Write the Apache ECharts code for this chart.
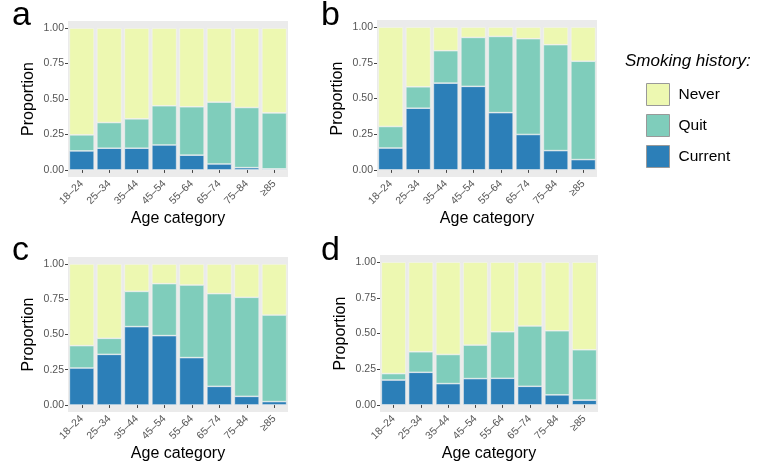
<!DOCTYPE html>
<html><head><meta charset="utf-8">
<script src="https://cdn.jsdelivr.net/npm/echarts@6/dist/echarts.min.js"></script>
<style>html,body{margin:0;padding:0;background:#fff}#c{width:758px;height:465px}</style>
</head><body><div id="c"></div>
<script>
const categories = ['18–24','25–34','35–44','45–54','55–64','65–74','75–84','≥85'];
const yTicks = [0, 0.25, 0.5, 0.75, 1];
const panelLabels = ['a','b','c','d'];
const seriesNames = ['Current','Quit','Never'];

const aCurrent = [0.134,0.153,0.153,0.176,0.104,0.042,0.016,0.007];
const aQuit    = [0.113,0.181,0.207,0.276,0.341,0.436,0.424,0.395];
const aNever   = [0.753,0.666,0.640,0.548,0.555,0.522,0.560,0.598];

const bCurrent = [0.153,0.432,0.608,0.585,0.401,0.248,0.135,0.072];
const bQuit    = [0.151,0.150,0.227,0.343,0.534,0.671,0.742,0.689];
const bNever   = [0.696,0.418,0.165,0.072,0.065,0.081,0.123,0.239];

const cCurrent = [0.262,0.359,0.556,0.492,0.336,0.132,0.061,0.024];
const cQuit    = [0.159,0.114,0.250,0.369,0.515,0.658,0.703,0.614];
const cNever   = [0.579,0.527,0.194,0.139,0.149,0.210,0.236,0.362];

const dCurrent = [0.174,0.228,0.149,0.184,0.186,0.130,0.070,0.033];
const dQuit    = [0.045,0.144,0.204,0.235,0.326,0.423,0.449,0.353];
const dNever   = [0.781,0.628,0.647,0.581,0.488,0.447,0.481,0.614];

const panels = [[aCurrent,aQuit,aNever],[bCurrent,bQuit,bNever],[cCurrent,cQuit,cNever],[dCurrent,dQuit,dNever]];
const colors = {Current:'#2c7fb8', Quit:'#7fcdbb', Never:'#edf8b1'};
const FONT = '"Liberation Sans", Arial, Helvetica, sans-serif';

const grids = [
  {left:68, top:21, width:220, height:156},
  {left:377, top:20, width:220, height:157},
  {left:68, top:257, width:220, height:155},
  {left:380, top:255, width:218, height:157}
];
const letterPos = [[12,16],[321,16],[12,251],[321,251]];

const option = {
  animation:false,
  backgroundColor:'#fff',
  grid: grids.map(g => Object.assign({show:true, backgroundColor:'#ebebeb', borderWidth:0}, g)),
  xAxis: grids.map((g,i) => ({
    type:'category', gridIndex:i, data:categories,
    name:'Age category', nameLocation:'middle', nameGap:34,
    nameTextStyle:{fontSize:16, color:'#000', fontFamily:FONT},
    axisLine:{show:false},
    axisTick:{show:true, alignWithLabel:true, length:3, lineStyle:{color:'#444'}},
    axisLabel:{rotate:45, fontSize:10.5, color:'#555', margin:5, fontFamily:FONT, interval:0},
    splitLine:{show:false}
  })),
  yAxis: grids.map((g,i) => ({
    type:'value', gridIndex:i, min:-0.05, max:1.05,
    name:'Proportion', nameLocation:'middle', nameGap:31,
    nameTextStyle:{fontSize:16, color:'#000', fontFamily:FONT},
    axisLine:{show:false},
    axisTick:{show:true, length:3, customValues:yTicks, lineStyle:{color:'#444'}},
    axisLabel:{customValues:yTicks, fontSize:10.5, color:'#555', margin:4, fontFamily:FONT,
      formatter: v => v.toFixed(2)},
    splitLine:{show:false}
  })),
  legend:{
    data:['Never','Quit','Current'], orient:'vertical', left:641, top:78,
    itemWidth:23, itemHeight:22, itemGap:8, icon:'rect',
    itemStyle:{borderColor:'#999', borderWidth:1},
    textStyle:{fontSize:15.5, color:'#000', fontFamily:FONT, padding:[0,0,0,4]}
  },
  graphic: [
    {type:'text', left:625, top:53, style:{text:'Smoking history:', fontSize:17, fontStyle:'italic', fill:'#000', fontFamily:FONT}}
  ].concat(panelLabels.map((t,i) => ({
    type:'text', x:letterPos[i][0], y:letterPos[i][1],
    style:{text:t, fontSize:34, fill:'#000', fontFamily:FONT, verticalAlign:'middle'}
  }))),
  series: []
};

panels.forEach((p,i) => {
  seriesNames.forEach((name,k) => {
    option.series.push({
      type:'bar', name:name, xAxisIndex:i, yAxisIndex:i, stack:'s'+i,
      data:p[k], barCategoryGap:'10%',
      itemStyle:{color:colors[name], borderColor:'#f4f4f4', borderWidth:0.6}
    });
  });
});

const chart = echarts.init(document.getElementById('c'), null, {renderer:'canvas'});
chart.setOption(option);
</script>
</body></html>
